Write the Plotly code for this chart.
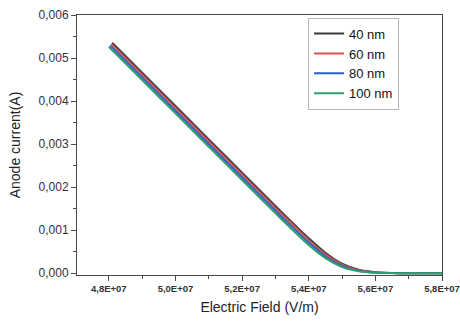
import plotly.graph_objects as go

# Anode current versus applied electric field for four layer thicknesses
series_names = ["40 nm", "60 nm", "80 nm", "100 nm"]
series_colors = ["#3b3b3b", "#d9534f", "#2a5fc4", "#2f9e6e"]

# Electric field in units of 1e7 V/m
field_40 = [4.810, 4.90, 5.00, 5.10, 5.20, 5.30, 5.35, 5.40, 5.45, 5.50, 5.55, 5.60, 5.65, 5.70, 5.80]
field_60 = [4.808, 4.90, 5.00, 5.10, 5.20, 5.30, 5.35, 5.40, 5.45, 5.50, 5.55, 5.60, 5.65, 5.70, 5.80]
field_80 = [4.804, 4.90, 5.00, 5.10, 5.20, 5.30, 5.35, 5.40, 5.45, 5.50, 5.55, 5.60, 5.65, 5.70, 5.80]
field_100 = [4.800, 4.90, 5.00, 5.10, 5.20, 5.30, 5.35, 5.40, 5.45, 5.50, 5.55, 5.60, 5.65, 5.70, 5.80]

# Anode current in A
current_40 = [0.005356, 0.004659, 0.003885, 0.003111, 0.002337, 0.001565, 0.001183, 0.000813,
              0.000477, 0.000222, 0.0000815, 0.0000256, 0.0000076, 0.0000022, 0.0]
current_60 = [0.005325, 0.004613, 0.003839, 0.003065, 0.002291, 0.001519, 0.001138, 0.000770,
              0.000441, 0.000200, 0.0000714, 0.0000222, 0.0000065, 0.0000019, 0.0]
current_80 = [0.005294, 0.004551, 0.003777, 0.003003, 0.002229, 0.001458, 0.001078, 0.000714,
              0.000395, 0.000172, 0.0000596, 0.0000183, 0.0000054, 0.0000016, 0.0]
current_100 = [0.005263, 0.004489, 0.003715, 0.002941, 0.002167, 0.001397, 0.001018, 0.000658,
               0.000352, 0.000147, 0.0000496, 0.0000150, 0.0000044, 0.0000013, 0.0]

x_tick_vals = [4.8, 5.0, 5.2, 5.4, 5.6, 5.8]
x_tick_text = ["4,8E+07", "5,0E+07", "5,2E+07", "5,4E+07", "5,6E+07", "5,8E+07"]
y_tick_vals = [0.0, 0.001, 0.002, 0.003, 0.004, 0.005, 0.006]

fields = [field_40, field_60, field_80, field_100]
currents = [current_40, current_60, current_80, current_100]

fig = go.Figure()
for name, color, fx, cy in zip(series_names, series_colors, fields, currents):
    fig.add_trace(go.Scatter(
        x=fx, y=cy, mode="lines", name=name,
        line=dict(color=color, width=2, shape="spline", smoothing=0.6),
    ))

font_family = "Liberation Sans, Arial, sans-serif"
axis_color = "#4a4a4a"

fig.update_layout(
    width=460, height=336,
    margin=dict(l=77, r=18, t=15, b=61, autoexpand=False),
    paper_bgcolor="white", plot_bgcolor="white",
    separators=",.",
    font=dict(family=font_family, color="#222"),
    legend=dict(
        x=0.633, y=0.99, xanchor="left", yanchor="top",
        bordercolor="#b8b8b8", borderwidth=1, bgcolor="white",
        font=dict(size=13, color="#111"),
        tracegroupgap=0, itemwidth=30,
    ),
    showlegend=True,
)

fig.update_xaxes(
    range=[4.7045, 5.8],
    tickvals=x_tick_vals, ticktext=x_tick_text,
    tickfont=dict(size=9.5, weight="bold", color="#333"),
    ticks="outside", ticklen=5, tickwidth=1, tickcolor=axis_color,
    minor=dict(dtick=0.1, tick0=4.7, ticks="outside", ticklen=3, tickcolor=axis_color),
    showline=True, linecolor=axis_color, linewidth=1, mirror=True,
    showgrid=False, zeroline=False,
    title=dict(text="Electric Field (V/m)", font=dict(size=14, color="#222"), standoff=8),
)

fig.update_yaxes(
    range=[-0.00004, 0.006],
    tickvals=y_tick_vals, tickformat=".3f",
    tickfont=dict(size=12, color="#333"),
    ticks="outside", ticklen=5, tickwidth=1, tickcolor=axis_color,
    minor=dict(dtick=0.0005, tick0=0, ticks="outside", ticklen=3, tickcolor=axis_color),
    showline=True, linecolor=axis_color, linewidth=1, mirror=True,
    showgrid=False, zeroline=False,
    title=dict(text="Anode current(A)", font=dict(size=14, color="#222"), standoff=14),
)

fig.write_html("out.html")
